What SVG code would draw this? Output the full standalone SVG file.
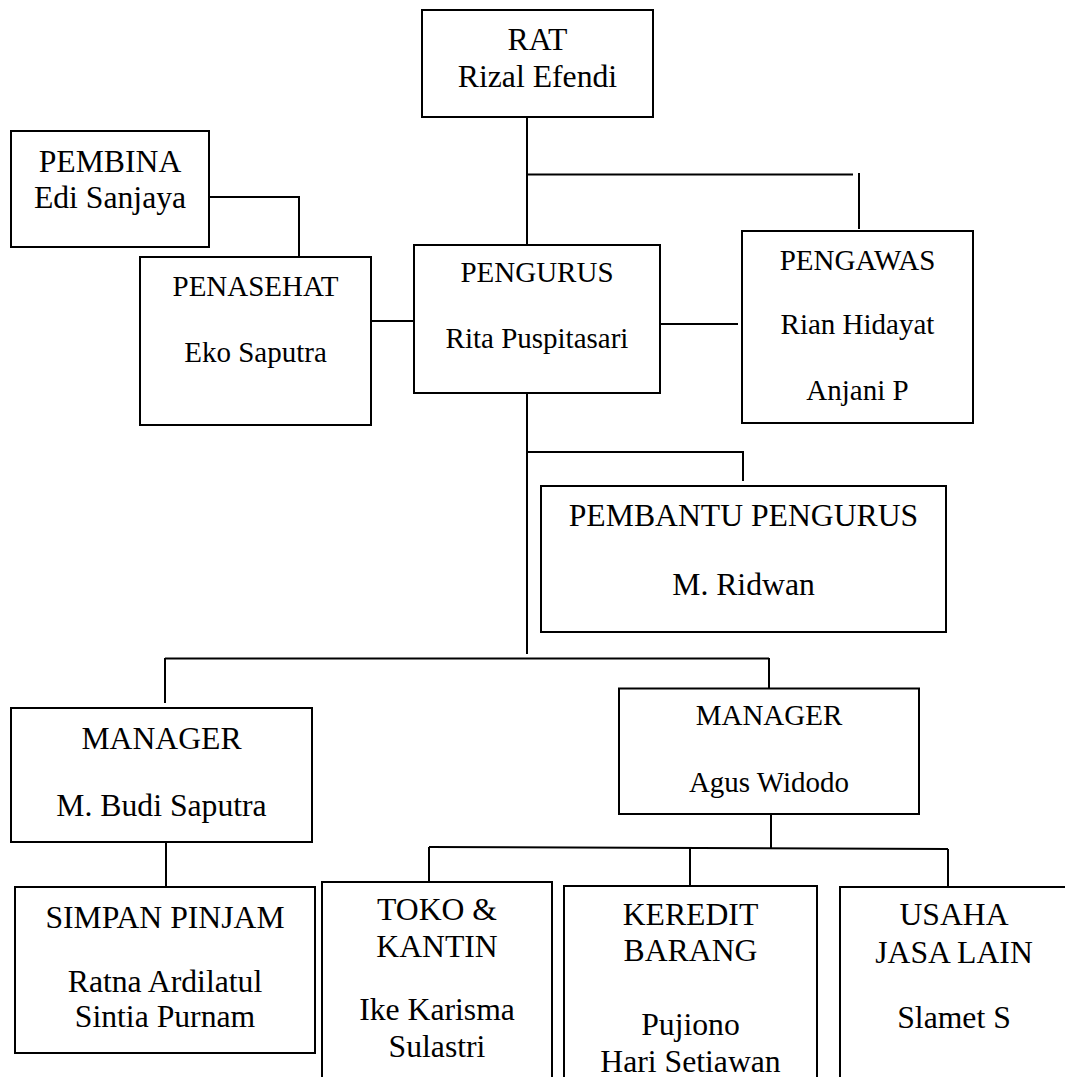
<svg xmlns="http://www.w3.org/2000/svg" width="1065" height="1077" viewBox="0 0 1065 1077">
<style>
  .box { fill: #ffffff; stroke: #000000; stroke-width: 2; }
  .ln { fill: none; stroke: #000000; stroke-width: 2; }
  .t { font-family: "Liberation Serif", "Times New Roman", serif; font-size: 31.7px; fill: #000000; text-anchor: middle; }
  .s { font-family: "Liberation Serif", "Times New Roman", serif; font-size: 29px; fill: #000000; text-anchor: middle; }
</style>
<rect x="0" y="0" width="1065" height="1077" fill="#ffffff"/>
<g id="connectors">
  <line class="ln" x1="527" y1="117" x2="527" y2="245"/>
  <line class="ln" x1="526" y1="174.5" x2="853" y2="174.5"/>
  <line class="ln" x1="859" y1="173" x2="859" y2="229"/>
  <polyline class="ln" points="209,197 299,197 299,257"/>
  <line class="ln" x1="371" y1="321" x2="419" y2="321"/>
  <line class="ln" x1="658" y1="324" x2="738" y2="324"/>
  <line class="ln" x1="527" y1="393" x2="527" y2="654"/>
  <polyline class="ln" points="527,452 743,452 743,481"/>
  <line class="ln" x1="165" y1="658.5" x2="769" y2="658.5"/>
  <line class="ln" x1="165" y1="658" x2="165" y2="703"/>
  <line class="ln" x1="769" y1="658" x2="769" y2="688"/>
  <line class="ln" x1="166" y1="842" x2="166" y2="887"/>
  <line class="ln" x1="771" y1="814" x2="771" y2="848"/>
  <line class="ln" x1="429" y1="847" x2="948" y2="849"/>
  <line class="ln" x1="429" y1="847" x2="429" y2="882"/>
  <line class="ln" x1="690" y1="848" x2="690" y2="885"/>
  <line class="ln" x1="948" y1="849" x2="948" y2="886"/>
</g>
<g id="rat">
  <rect class="box" x="422" y="10" width="231" height="107"/>
  <text class="t" x="537.5" y="50">RAT</text>
  <text class="t" x="537.5" y="86.5">Rizal Efendi</text>
</g>
<g id="pembina">
  <rect class="box" x="11" y="131" width="198" height="116"/>
  <text class="t" x="110" y="171.5">PEMBINA</text>
  <text class="t" x="110" y="208">Edi Sanjaya</text>
</g>
<g id="penasehat">
  <rect class="box" x="140" y="257" width="231" height="168"/>
  <text class="s" x="255.5" y="295.5">PENASEHAT</text>
  <text class="s" x="255.5" y="361.5">Eko Saputra</text>
</g>
<g id="pengurus">
  <rect class="box" x="414" y="245" width="246" height="148"/>
  <text class="s" x="537" y="281.5">PENGURUS</text>
  <text class="s" x="537" y="348">Rita Puspitasari</text>
</g>
<g id="pengawas">
  <rect class="box" x="742" y="231" width="231" height="192"/>
  <text class="s" x="857.5" y="269.5">PENGAWAS</text>
  <text class="s" x="857.5" y="333.5">Rian Hidayat</text>
  <text class="s" x="857.5" y="399.5">Anjani P</text>
</g>
<g id="pembantu">
  <rect class="box" x="541" y="486" width="405" height="146"/>
  <text class="t" x="743.5" y="526">PEMBANTU PENGURUS</text>
  <text class="t" x="743.5" y="595">M. Ridwan</text>
</g>
<g id="manager-left">
  <rect class="box" x="11" y="708" width="301" height="134"/>
  <text class="t" x="161.5" y="748.5">MANAGER</text>
  <text class="t" x="161.5" y="816">M. Budi Saputra</text>
</g>
<g id="manager-right">
  <rect class="box" x="619" y="688.5" width="300" height="125.5"/>
  <text class="s" x="769" y="725">MANAGER</text>
  <text class="s" x="769" y="792">Agus Widodo</text>
</g>
<g id="simpan-pinjam">
  <rect class="box" x="15" y="887" width="300" height="166"/>
  <text class="t" x="165" y="927.5">SIMPAN PINJAM</text>
  <text class="t" x="165" y="991.5">Ratna Ardilatul</text>
  <text class="t" x="165" y="1026.5">Sintia Purnam</text>
</g>
<g id="toko-kantin">
  <rect class="box" x="322" y="882" width="230" height="200"/>
  <text class="t" x="437" y="920">TOKO &amp;</text>
  <text class="t" x="437" y="956.5">KANTIN</text>
  <text class="t" x="437" y="1020">Ike Karisma</text>
  <text class="t" x="437" y="1056.5">Sulastri</text>
</g>
<g id="keredit-barang">
  <rect class="box" x="564" y="886" width="253" height="196"/>
  <text class="t" x="690.5" y="925">KEREDIT</text>
  <text class="t" x="690.5" y="961">BARANG</text>
  <text class="t" x="690.5" y="1035">Pujiono</text>
  <text class="t" x="690.5" y="1072">Hari Setiawan</text>
</g>
<g id="usaha-jasa">
  <rect class="box" x="840" y="887" width="228" height="195"/>
  <text class="t" x="954" y="925">USAHA</text>
  <text class="t" x="954" y="963">JASA LAIN</text>
  <text class="t" x="954" y="1028">Slamet S</text>
</g>
</svg>
